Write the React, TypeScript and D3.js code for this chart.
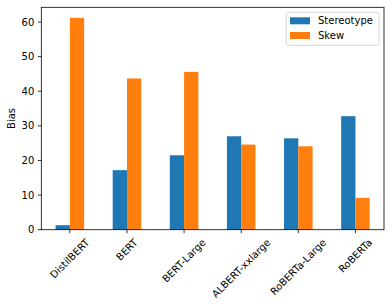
import * as d3 from "d3";
import { useEffect, useRef } from "react";

const models = [
  "DistilBERT",
  "BERT",
  "BERT-Large",
  "ALBERT-xxlarge",
  "RoBERTa-Large",
  "RoBERTa",
];
const stereotype = [1.3, 17.2, 21.5, 27.0, 26.4, 32.8];
const skew = [61.2, 43.7, 45.6, 24.6, 24.1, 9.2];
const yTicks = [0, 10, 20, 30, 40, 50, 60];

const seriesNames = ["Stereotype", "Skew"];
const colors = ["#1f77b4", "#ff7f0e"];

const App: React.FC = () => {
  const ref = useRef<SVGSVGElement | null>(null);

  useEffect(() => {
    const svg = d3.select(ref.current);
    svg.selectAll("*").remove();

    const width = 392;
    const height = 308;
    const font = "DejaVu Sans, sans-serif";

    const left = 41.3;
    const right = 384;
    const top = 7.3;
    const bottom = 229.7;

    const x = d3
      .scaleLinear()
      .domain([-0.5, models.length - 0.5])
      .range([left, right]);
    const yMax = d3.max([...stereotype, ...skew]) ?? 0;
    const y = d3
      .scaleLinear()
      .domain([0, yMax * 1.05])
      .range([bottom, top]);

    const barW = 0.25;
    const series = [stereotype, skew];

    // bars
    series.forEach((vals, s) => {
      svg
        .append("g")
        .selectAll("rect")
        .data(vals)
        .enter()
        .append("rect")
        .attr("x", (_, i) => x(i - barW + s * barW))
        .attr("y", (d) => y(d))
        .attr("width", x(barW) - x(0))
        .attr("height", (d) => bottom - y(d))
        .attr("fill", colors[s]);
    });

    // frame
    svg
      .append("rect")
      .attr("x", left)
      .attr("y", top)
      .attr("width", right - left)
      .attr("height", bottom - top)
      .attr("fill", "none")
      .attr("stroke", "#000")
      .attr("stroke-width", 0.8);

    // y axis
    const yg = svg.append("g");
    yTicks.forEach((t) => {
      yg.append("line")
        .attr("x1", left - 3.5)
        .attr("x2", left)
        .attr("y1", y(t))
        .attr("y2", y(t))
        .attr("stroke", "#000")
        .attr("stroke-width", 0.8);
      yg.append("text")
        .attr("x", left - 7)
        .attr("y", y(t))
        .attr("dy", "0.36em")
        .attr("text-anchor", "end")
        .style("font-family", font)
        .style("font-size", "10px")
        .style("fill", "#000")
        .text(t);
    });

    svg
      .append("text")
      .attr("transform", `translate(15, ${(top + bottom) / 2}) rotate(-90)`)
      .attr("text-anchor", "middle")
      .style("font-family", font)
      .style("font-size", "10px")
      .text("Bias");

    // x axis, labels rotated 45 and centred on the tick
    const xg = svg.append("g");
    models.forEach((m, i) => {
      xg.append("line")
        .attr("x1", x(i))
        .attr("x2", x(i))
        .attr("y1", bottom)
        .attr("y2", bottom + 3.5)
        .attr("stroke", "#000")
        .attr("stroke-width", 0.8);
      const label = xg
        .append("text")
        .attr("text-anchor", "middle")
        .attr("dy", "0.33em")
        .style("font-family", font)
        .style("font-size", "10px")
        .text(m);
      const w = (label.node() as SVGTextElement).getComputedTextLength();
      const half = (w + 11.6) / (2 * Math.SQRT2);
      label.attr(
        "transform",
        `translate(${x(i)}, ${bottom + 7 + half}) rotate(-45)`
      );
    });

    // legend
    const lg = svg.append("g");
    lg.append("rect")
      .attr("x", 286.3)
      .attr("y", 12.3)
      .attr("width", 92.7)
      .attr("height", 33)
      .attr("rx", 2)
      .attr("fill", "#fff")
      .attr("fill-opacity", 0.8)
      .attr("stroke", "#ccc")
      .attr("stroke-width", 0.8);
    seriesNames.forEach((name, s) => {
      const base = 24.3 + s * 14.7;
      lg.append("rect")
        .attr("x", 290)
        .attr("y", base - 7)
        .attr("width", 20)
        .attr("height", 7)
        .attr("fill", colors[s]);
      lg.append("text")
        .attr("x", 318)
        .attr("y", base)
        .style("font-family", font)
        .style("font-size", "10px")
        .text(name);
    });

    svg.attr("width", width).attr("height", height);
  }, []);

  return (
    <svg
      ref={ref}
      width={392}
      height={308}
      style={{ position: "absolute", left: 0, top: 0, background: "#fff" }}
    ></svg>
  );
};

export default App;
